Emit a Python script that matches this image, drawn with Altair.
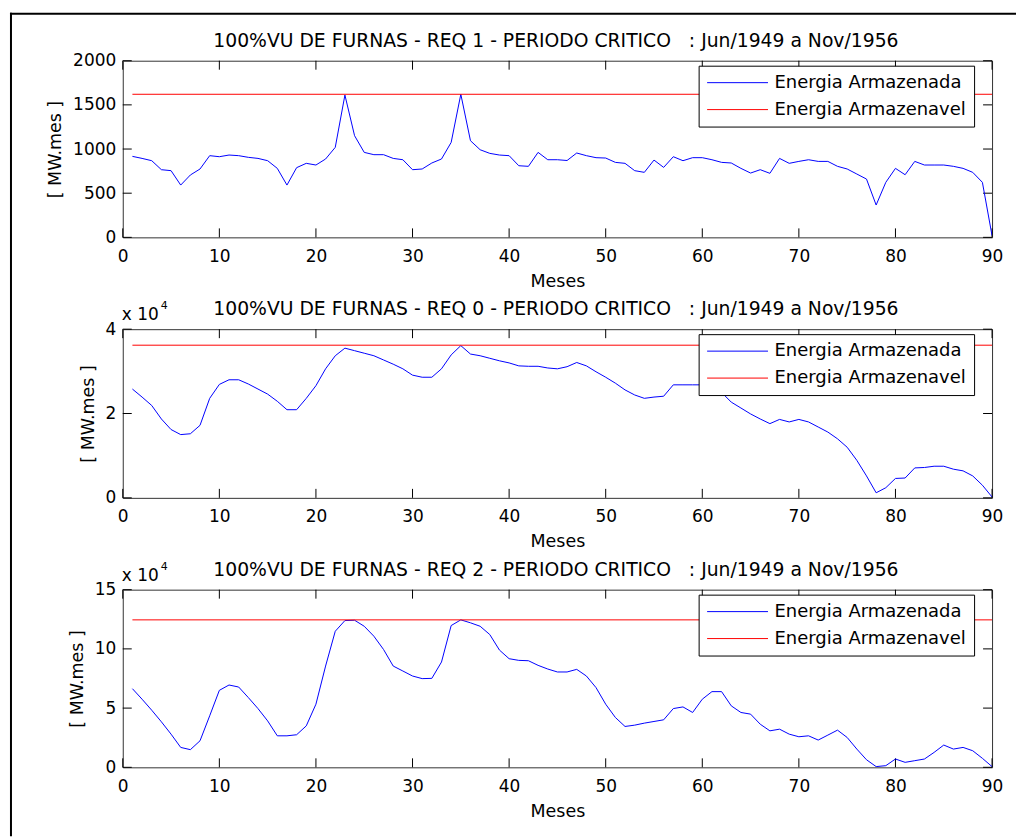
import altair as alt
import pandas as pd

# ---------------- data ----------------
MONTHS = list(range(1, 91))

REQ1 = [917, 894, 868, 766, 755, 592, 706, 774, 925, 913,
        932, 925, 906, 894, 868, 781, 592, 789, 838, 819,
        887, 1019, 1611, 1151, 962, 936, 936, 894, 879, 766,
        774, 842, 887, 1075, 1620, 1094, 992, 951, 932, 925,
        811, 804, 962, 879, 879, 870, 955, 925, 902, 898,
        849, 838, 755, 736, 875, 792, 913, 868, 902, 902,
        879, 849, 842, 781, 728, 766, 725, 894, 838, 860,
        879, 860, 860, 804, 774, 717, 660, 366, 623, 781,
        709, 860, 819, 819, 819, 804, 781, 736, 623, 19]

REQ0 = [2.58, 2.39, 2.19, 1.87, 1.62, 1.50, 1.52, 1.72, 2.36, 2.69,
        2.80, 2.80, 2.70, 2.58, 2.46, 2.29, 2.09, 2.09, 2.36, 2.66,
        3.06, 3.37, 3.55, 3.49, 3.43, 3.37, 3.27, 3.17, 3.06, 2.91,
        2.86, 2.86, 3.06, 3.39, 3.61, 3.41, 3.37, 3.31, 3.25, 3.20,
        3.13, 3.12, 3.12, 3.08, 3.06, 3.11, 3.21, 3.13, 2.99, 2.86,
        2.72, 2.56, 2.44, 2.36, 2.39, 2.41, 2.68, 2.68, 2.68, 2.68,
        2.62, 2.50, 2.27, 2.13, 1.99, 1.87, 1.76, 1.86, 1.80, 1.86,
        1.80, 1.68, 1.56, 1.40, 1.20, 0.89, 0.52, 0.12, 0.24, 0.46,
        0.47, 0.71, 0.72, 0.75, 0.75, 0.68, 0.64, 0.52, 0.30, 0.02]

REQ2 = [6.64, 5.75, 4.82, 3.84, 2.80, 1.68, 1.49, 2.24, 4.35, 6.50,
        6.95, 6.78, 5.89, 4.96, 3.92, 2.66, 2.66, 2.75, 3.50, 5.33,
        8.55, 11.49, 12.39, 12.42, 11.91, 11.07, 9.95, 8.55, 8.13, 7.71,
        7.49, 7.51, 8.89, 11.97, 12.45, 12.20, 11.91, 11.21, 9.90, 9.17,
        9.03, 9.00, 8.61, 8.30, 8.05, 8.05, 8.27, 7.71, 6.73, 5.33,
        4.21, 3.45, 3.56, 3.73, 3.87, 4.01, 4.96, 5.10, 4.63, 5.75,
        6.39, 6.39, 5.19, 4.63, 4.49, 3.64, 3.08, 3.22, 2.80, 2.58,
        2.66, 2.30, 2.72, 3.14, 2.52, 1.54, 0.64, 0.06, 0.14, 0.70,
        0.42, 0.56, 0.70, 1.26, 1.88, 1.54, 1.68, 1.40, 0.76, 0.06]

CAP1 = 1620
CAP0 = 3.62
CAP2 = 12.45

SERIES = ["Energia Armazenada", "Energia Armazenavel"]
COLORS = ["#0000ff", "#ff0000"]

X_TICKS = [0, 10, 20, 30, 40, 50, 60, 70, 80, 90]
Y_TICKS1 = [0, 500, 1000, 1500, 2000]
Y_TICKS0 = [0, 2, 4]
Y_TICKS2 = [0, 5, 10, 15]

NB = "\u00a0"
TITLE1 = "100%VU DE FURNAS - REQ 1 - PERIODO CRITICO" + NB * 3 + ": Jun/1949 a Nov/1956"
TITLE0 = "100%VU DE FURNAS - REQ 0 - PERIODO CRITICO" + NB * 3 + ": Jun/1949 a Nov/1956"
TITLE2 = "100%VU DE FURNAS - REQ 2 - PERIODO CRITICO" + NB * 3 + ": Jun/1949 a Nov/1956"

# ---------------- styling ----------------
FONT = "DejaVu Sans"
W = 871
TL = 9  # tick length (inward, MATLAB style)


def panel(values, cap, yticks, title, h, sci=False, border=False):
    df = pd.DataFrame({
        "Mes": MONTHS + [1, 90],
        "Energia": values + [cap, cap],
        "Serie": [SERIES[0]] * len(values) + [SERIES[1]] * 2,
    })
    xs = alt.Scale(domain=[0, 90], nice=False, zero=False)
    ys = alt.Scale(domain=[yticks[0], yticks[-1]], nice=False, zero=False)
    xax = alt.Axis(values=X_TICKS, title="Meses", format="d")
    yax = alt.Axis(values=yticks, title="[ MW.mes ]", format="d")

    line = alt.Chart(df).mark_line(strokeWidth=1, clip=True).encode(
        x=alt.X("Mes:Q", scale=xs, axis=xax),
        y=alt.Y("Energia:Q", scale=ys, axis=yax),
        color=alt.Color(
            "Serie:N",
            scale=alt.Scale(domain=SERIES, range=COLORS),
            legend=alt.Legend(
                orient="none", legendX=577, legendY=5, title=None,
                direction="vertical", symbolType="stroke", symbolSize=3721,
                symbolStrokeWidth=1, clipHeight=18, labelFont=FONT,
                labelFontSize=18, labelColor="black", labelOffset=6,
                rowPadding=9, padding=8, strokeColor="black",
                fillColor="white", labelLimit=400,
            ),
        ),
        order="Mes:Q",
    )

    xt = pd.DataFrame({"Mes": X_TICKS})
    yt = pd.DataFrame({"Energia": yticks})
    bottom = alt.Chart(xt).mark_rule(color="black", strokeWidth=1).encode(
        x=alt.X("Mes:Q", scale=xs, axis=xax), y=alt.value(h), y2=alt.value(h - TL))
    top = alt.Chart(xt).mark_rule(color="black", strokeWidth=1).encode(
        x=alt.X("Mes:Q", scale=xs, axis=xax), y=alt.value(0), y2=alt.value(TL))
    left = alt.Chart(yt).mark_rule(color="black", strokeWidth=1).encode(
        y=alt.Y("Energia:Q", scale=ys, axis=yax), x=alt.value(0), x2=alt.value(TL))
    right = alt.Chart(yt).mark_rule(color="black", strokeWidth=1).encode(
        y=alt.Y("Energia:Q", scale=ys, axis=yax), x=alt.value(W - TL), x2=alt.value(W))

    one = alt.Data(values=[{"k": 0}])
    ttl = alt.Chart(one).mark_text(
        align="center", baseline="alphabetic", font=FONT, fontSize=18.8, color="black"
    ).encode(x=alt.value(434), y=alt.value(-14), text=alt.value(title))

    layers = [bottom, top, left, right, line, ttl]

    if sci:
        layers.append(alt.Chart(one).mark_text(
            align="left", baseline="alphabetic", font=FONT, fontSize=17, color="black"
        ).encode(x=alt.value(-1), y=alt.value(-9), text=alt.value("x 10")))
        layers.append(alt.Chart(one).mark_text(
            align="left", baseline="alphabetic", font=FONT, fontSize=11, color="black"
        ).encode(x=alt.value(38), y=alt.value(-20), text=alt.value("4")))
    if border:
        layers.append(alt.Chart(one).mark_rule(color="black", strokeWidth=2).encode(
            x=alt.value(-112), y=alt.value(-48), y2=alt.value(777)))
        layers.append(alt.Chart(one).mark_rule(color="black", strokeWidth=2).encode(
            y=alt.value(-47), x=alt.value(-113), x2=alt.value(895)))

    return alt.layer(*layers).properties(width=W, height=h)


p1 = panel(REQ1, CAP1, Y_TICKS1, TITLE1, 177, border=True)
p0 = panel(REQ0, CAP0, Y_TICKS0, TITLE0, 169, sci=True)
p2 = panel(REQ2, CAP2, Y_TICKS2, TITLE2, 178, sci=True)

chart = alt.vconcat(p1, p0, p2, spacing=92, bounds="flush").resolve_scale(
    x="independent", y="independent", color="independent"
).properties(
    padding={"left": 8, "top": 10, "right": 0, "bottom": 0},
    background="white",
).configure_view(
    stroke="#333333", strokeWidth=1
).configure_axis(
    labelFont=FONT, labelFontSize=17, labelColor="black", labelFlush=False,
    titleFont=FONT, titleFontSize=17.5, titleFontWeight="normal", titleColor="black",
    tickSize=0, domain=False, grid=False, labelOverlap=False,
).configure_axisX(
    labelPadding=11, titlePadding=8
).configure_axisY(
    labelPadding=7, titlePadding=8
)

chart.save("out.html", embed_options={"renderer": "svg", "actions": False})
